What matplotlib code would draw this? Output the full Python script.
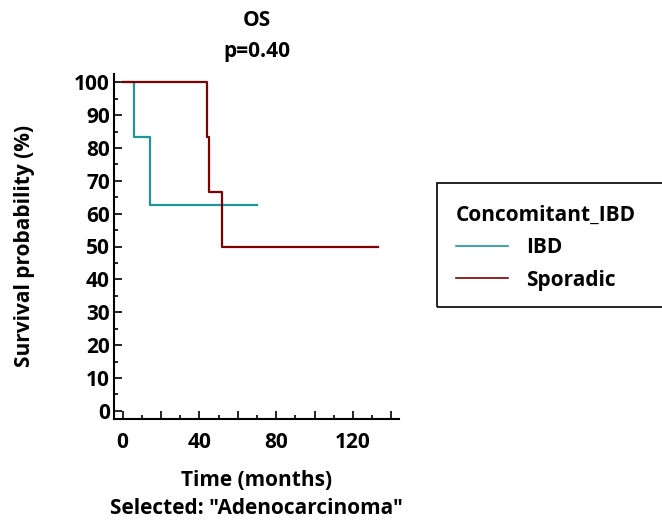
import matplotlib
matplotlib.use("Agg")
import matplotlib.pyplot as plt
from matplotlib.patches import Rectangle
from matplotlib.ticker import MultipleLocator, FixedLocator

plt.rcParams['font.family'] = ['Open Sans', 'DejaVu Sans']
plt.rcParams['font.weight'] = 'bold'

# Data (Kaplan-Meier step points)
ibd_time = [0, 6, 14, 70]
ibd_surv = [100, 83.3, 62.5, 62.5]
spor_time = [0, 44, 45, 52, 133]
spor_surv = [100, 83.3, 66.7, 50, 50]
group_names = ["IBD", "Sporadic"]
colors = ["#1c9898", "#800000"]
x_ticks = [0, 40, 80, 120]
y_ticks = list(range(0, 101, 10))

FS = 15
W, H = 662, 521
fig = plt.figure(figsize=(W / 100, H / 100), dpi=100)
ax = fig.add_axes([114 / W, 1 - 419 / H, (399 - 114) / W, (419 - 74) / H])

ax.step(ibd_time, ibd_surv, where='post', color=colors[0], lw=1.6, label=group_names[0])
ax.step(spor_time, spor_surv, where='post', color=colors[1], lw=1.6, label=group_names[1])

ax.set_xlim(-4.5, 144)
ax.set_ylim(-2.5, 102.5)
ax.set_xticks(x_ticks)
ax.set_yticks(y_ticks)
ax.yaxis.set_minor_locator(MultipleLocator(5))
ax.xaxis.set_minor_locator(FixedLocator([20, 60, 100, 140, 10, 30, 50, 70, 90, 110, 130]))
ax.tick_params(axis='both', which='major', direction='in', length=6, width=1.2, labelsize=FS)
ax.tick_params(axis='y', which='major', pad=3)
ax.tick_params(axis='x', which='major', pad=9)
ax.tick_params(axis='both', which='minor', direction='in', length=3, width=1.2)
for i, t in enumerate(ax.xaxis.get_minor_ticks()):
    if i < 4:
        t.tick1line.set_markersize(6)
for lab in ax.get_xticklabels() + ax.get_yticklabels():
    lab.set_fontweight('bold')

for s in ['top', 'right']:
    ax.spines[s].set_visible(False)
for s in ['left', 'bottom']:
    ax.spines[s].set_linewidth(1.5)

ax.set_xlabel("Time (months)", fontsize=FS, fontweight='bold', va='center')
ax.xaxis.set_label_coords(256.5 / W, 1 - 481 / H, transform=fig.transFigure)
ax.set_ylabel("Survival probability (%)", fontsize=FS, fontweight='bold', va='center')
ax.yaxis.set_label_coords(25 / W, 1 - 246 / H, transform=fig.transFigure)

fig.text(256.5 / W, 1 - 21 / H, "OS", ha='center', va='center', fontsize=FS, fontweight='bold')
fig.text(256.5 / W, 1 - 51 / H, "p=0.40", ha='center', va='center', fontsize=FS, fontweight='bold')
fig.text(256.5 / W, 1 - 509 / H, 'Selected: "Adenocarcinoma"', ha='center', va='center', fontsize=FS, fontweight='bold')

# legend box
fig.patches.append(Rectangle((437 / W, 1 - 307 / H), 230 / W, 124 / H, transform=fig.transFigure,
                             fill=False, edgecolor='black', lw=1.2))
leg = fig.legend(loc='upper left', bbox_to_anchor=(437 / W, 1 - 186 / H), frameon=False,
                 title="Concomitant_IBD", fontsize=FS, title_fontsize=FS,
                 handlelength=2.5, handletextpad=0.87, labelspacing=0.55)
leg.get_title().set_fontweight('bold')
leg._legend_box.align = "left"
for t in leg.get_texts():
    t.set_fontweight('bold')
for l in leg.get_lines():
    l.set_linewidth(1.2)

fig.savefig("out.png", dpi=100)
